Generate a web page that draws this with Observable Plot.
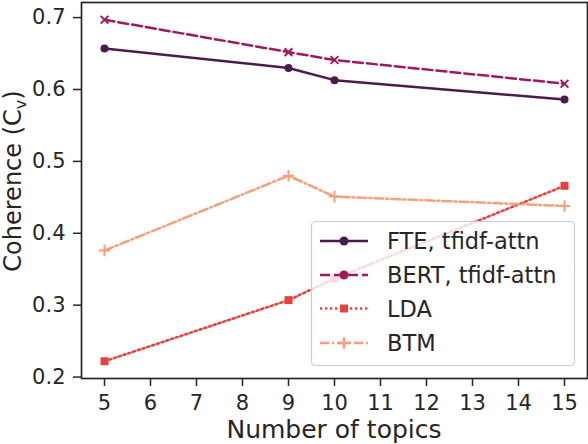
<!DOCTYPE html>
<html><head><meta charset="utf-8">
<script src="https://cdn.jsdelivr.net/npm/d3@7"></script>
<script src="https://cdn.jsdelivr.net/npm/@observablehq/plot@0.6"></script>
<style>body{margin:0;background:#fff}</style>
</head><body><div id="chart"></div>
<script>
// ---- data ----
const topics = [5, 9, 10, 15];
const fte  = [0.657, 0.630, 0.613, 0.586];
const bert = [0.697, 0.652, 0.641, 0.608];
const lda  = [0.222, 0.307, 0.337, 0.466];
const btm  = [0.376, 0.480, 0.451, 0.438];
const seriesNames = ["FTE, tfidf-attn", "BERT, tfidf-attn", "LDA", "BTM"];
const xTicks = [5, 6, 7, 8, 9, 10, 11, 12, 13, 14, 15];
const yTicks = [0.2, 0.3, 0.4, 0.5, 0.6, 0.7];

// ---- styles ----
const colors  = ["#4a1b4c", "#9f1a5b", "#e8403e", "#f5a079"];
const dashes  = [null, "10,4", "2.2,2.8", "9,3,2,3"];
const symbols = ["circle", "times", "square", "plus"];
const legendSymbols = ["circle", "circle", "square", "plus"];
const dotR    = [4, 3.6, 4.5, 3.8];
const filled  = [true, false, true, false];
const values  = [fte, bert, lda, btm];

const rows = [];
values.forEach((vals, s) => vals.forEach((v, i) => rows.push({series: seriesNames[s], s, x: topics[i], y: v})));

const marks = [];
seriesNames.forEach((name, s) => {
  const d = rows.filter(r => r.s === s);
  marks.push(Plot.line(d, {x: "x", y: "y", stroke: colors[s], strokeWidth: 2.5, strokeDasharray: dashes[s]}));
});
seriesNames.forEach((name, s) => {
  const d = rows.filter(r => r.s === s);
  marks.push(Plot.dot(d, filled[s]
    ? {x: "x", y: "y", symbol: () => symbols[s], r: dotR[s], fill: colors[s], stroke: "none"}
    : {x: "x", y: "y", symbol: () => symbols[s], r: dotR[s], stroke: colors[s], strokeWidth: 2, fill: "none"}));
});

const chart = Plot.plot({
  width: 588, height: 444,
  marginTop: 2, marginBottom: 66, marginLeft: 81, marginRight: 1,
  style: {fontFamily: "DejaVu Sans", fontSize: "21px", color: "#262626", background: "#fff"},
  x: {domain: [4.5, 15.5]},
  y: {domain: [0.198, 0.721]},
  marks: [
    Plot.axisX({ticks: xTicks, tickSize: 8, tickPadding: 9, label: null, fontSize: 21, tickFormat: d3.format("d"), strokeWidth: 1.5}),
    Plot.axisY({ticks: yTicks, tickSize: 8, tickPadding: 8, label: null, fontSize: 21, tickFormat: d3.format(".1f"), strokeWidth: 1.5}),
    ...marks,
    Plot.frame({stroke: "#262626", strokeWidth: 1.7})
  ]
});
document.getElementById("chart").appendChild(chart);

// ---- axis labels & legend (SVG additions) ----
const svg = d3.select(chart);
svg.append("text")
  .attr("x", 334).attr("y", 438)
  .attr("text-anchor", "middle")
  .attr("font-family", "DejaVu Sans").attr("font-size", 25).attr("fill", "#262626")
  .text("Number of topics");

const yl = svg.append("text")
  .attr("transform", "translate(21,181) rotate(-90)")
  .attr("text-anchor", "middle")
  .attr("font-family", "DejaVu Sans").attr("font-size", 24).attr("fill", "#262626");
yl.append("tspan").text("Coherence (C");
yl.append("tspan").attr("font-size", 16).attr("dy", 5).text("v");
yl.append("tspan").attr("dy", -5).text(")");

const lg = svg.append("g");
lg.append("rect").attr("x", 311.5).attr("y", 221.5).attr("width", 263).attr("height", 144)
  .attr("rx", 4).attr("fill", "#fff").attr("fill-opacity", 0.8).attr("stroke", "#cccccc").attr("stroke-width", 1.2);
const rowY = [241, 275, 308.5, 343];
const symMap = {circle: d3.symbolCircle, square: d3.symbolSquare, plus: d3.symbolPlus, times: d3.symbolTimes};
seriesNames.forEach((name, s) => {
  const y = rowY[s];
  lg.append("line").attr("x1", 320).attr("x2", 368).attr("y1", y).attr("y2", y)
    .attr("stroke", colors[s]).attr("stroke-width", 2.5).attr("stroke-dasharray", dashes[s]);
  const sym = legendSymbols[s];
  const r = sym === "circle" ? 4.5 : dotR[s];
  const p = d3.symbol(symMap[sym], Math.PI * r * r)();
  const stroked = sym === "plus" || sym === "times";
  lg.append("path").attr("d", p).attr("transform", `translate(344,${y})`)
    .attr("fill", stroked ? "none" : colors[s]).attr("stroke", stroked ? colors[s] : "none").attr("stroke-width", 2.5);
  lg.append("text").attr("x", 387).attr("y", y).attr("dy", "0.36em").attr("text-anchor", "start")
    .attr("font-family", "DejaVu Sans").attr("font-size", 22.5).attr("fill", "#262626").text(name);
});
</script>
</body></html>
